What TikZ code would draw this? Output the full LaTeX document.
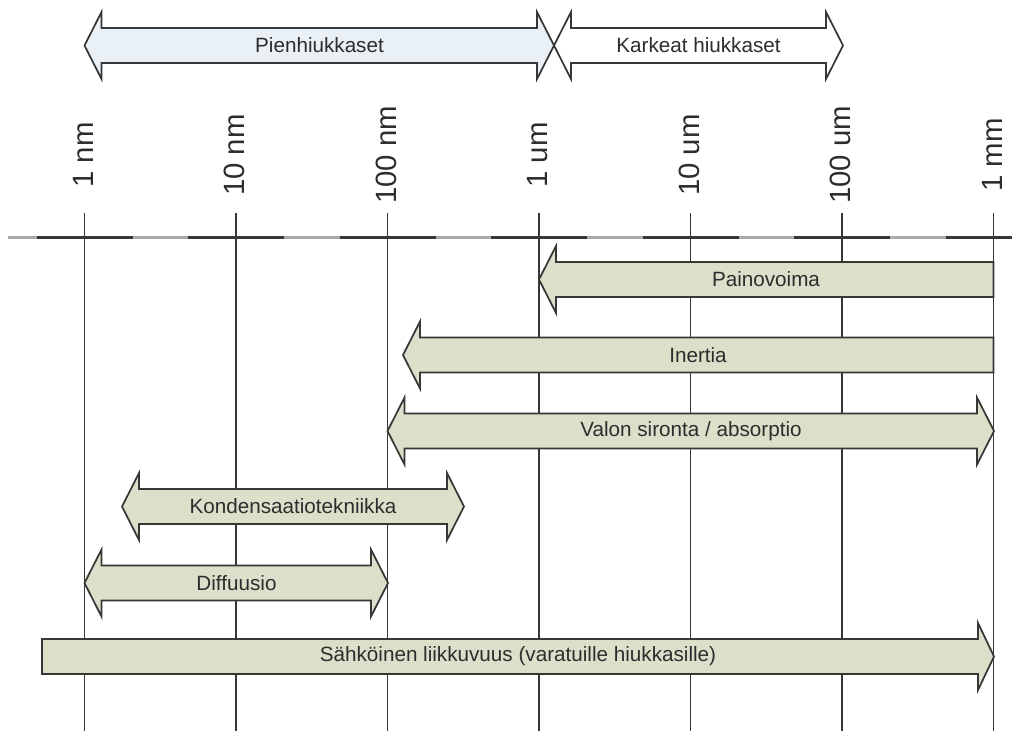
\documentclass[tikz,border=0pt]{standalone}
\usepackage{fontspec}
\setmainfont{Liberation Sans}
\definecolor{arrowfill}{RGB}{220,223,201}
\definecolor{topfill}{RGB}{233,240,246}
\definecolor{edge}{RGB}{55,55,55}
\definecolor{txt}{RGB}{45,45,45}
\definecolor{axisgray}{RGB}{170,170,170}
% double-headed arrow: tips at x1 and x2, centre y
\newcommand\myDArrow[4]{%
  \draw[#4] (#1,#3) -- (#1+17,#3-33.5) -- (#1+17,#3-17.5) -- (#2-17,#3-17.5)
    -- (#2-17,#3-33.5) -- (#2,#3) -- (#2-17,#3+33.5) -- (#2-17,#3+17.5)
    -- (#1+17,#3+17.5) -- (#1+17,#3+33.5) -- cycle;}
% left-pointing arrow: tip at x1, flat end at x2
\newcommand\myLArrow[4]{%
  \draw[#4] (#1,#3) -- (#1+17,#3-33.5) -- (#1+17,#3-17.5) -- (#2,#3-17.5)
    -- (#2,#3+17.5) -- (#1+17,#3+17.5) -- (#1+17,#3+33.5) -- cycle;}
% right-pointing arrow: flat end at x1, tip at x2
\newcommand\myRArrow[4]{%
  \draw[#4] (#1,#3-17.5) -- (#2-16,#3-17.5) -- (#2-16,#3-33.5) -- (#2,#3)
    -- (#2-16,#3+33.5) -- (#2-16,#3+17.5) -- (#1,#3+17.5) -- cycle;}
\begin{document}
\begin{tikzpicture}[x=0.75pt,y=-0.75pt,
  band/.style={draw=edge,line width=1.3pt,fill=arrowfill,line join=miter},
  topband/.style={draw=edge,line width=1.3pt,fill=topfill,line join=miter},
  whiteband/.style={draw=edge,line width=1.3pt,fill=white,line join=miter},
  lbl/.style={text=txt,font=\fontsize{15.5}{18}\selectfont,inner sep=0pt},
  vlbl/.style={text=txt,font=\fontsize{22}{26}\selectfont,inner sep=0pt,rotate=90},
  grid/.style={draw=edge,line width=1.3pt},
  axisdark/.style={draw=edge,line width=2.2pt},
  axislight/.style={draw=axisgray,line width=1.8pt}]
\useasboundingbox (0,0) rectangle (1012,731);
\fill[white] (0,0) rectangle (1012,731);

% axis
\coordinate (axL) at (8,237.5);
\coordinate (axR) at (1012,237.5);
\draw[axislight] (axL) -- (axR);
\foreach \i/\x in {0/84.5,1/236,2/387.5,3/539,4/690.5,5/842,6/993.5}{
  \coordinate (t\i) at (\x,213);
  \coordinate (b\i) at (\x,731);
  \coordinate (dl\i) at (\x-48,237.5);
  \coordinate (dr\i) at ({min(\x+48,1012)},237.5);
  \draw[axisdark] (dl\i) -- (dr\i);
  \draw[grid] (t\i) -- (b\i);
}

% scale labels
\node[vlbl] (l0) at (83,155) {1 nm};
\node[vlbl] (l1) at (234.5,155) {10 nm};
\node[vlbl] (l2) at (386,155) {100 nm};
\node[vlbl] (l3) at (537.5,155) {1 um};
\node[vlbl] (l4) at (689,155) {10 um};
\node[vlbl] (l5) at (840.5,155) {100 um};
\node[vlbl] (l6) at (992,155) {1 mm};

% top arrows
\myDArrow{84.5}{554}{45.5}{topband}
\myDArrow{554}{843}{45.5}{whiteband}
\node[lbl] (pien) at (319.5,45.5) {Pienhiukkaset};
\node[lbl] (kark) at (698.5,45.5) {Karkeat hiukkaset};

% method arrows
\myLArrow{539}{993.5}{279.5}{band}
\node[lbl] (paino) at (766,279.5) {Painovoima};
\myLArrow{403}{993.5}{355}{band}
\node[lbl] (inert) at (698,355) {Inertia};
\myDArrow{387.5}{994}{431}{band}
\node[lbl] (valon) at (691,431) {Valon sironta / absorptio};
\myDArrow{122}{464}{506.5}{band}
\node[lbl] (kond) at (293,506.5) {Kondensaatiotekniikka};
\myDArrow{84.5}{388}{583}{band}
\node[lbl] (diff) at (236.5,583) {Diffuusio};
\myRArrow{42}{994}{656.5}{band}
\node[lbl] (sahko) at (518,656.5) {Sähköinen liikkuvuus (varatuille hiukkasille)};
\end{tikzpicture}
\end{document}
